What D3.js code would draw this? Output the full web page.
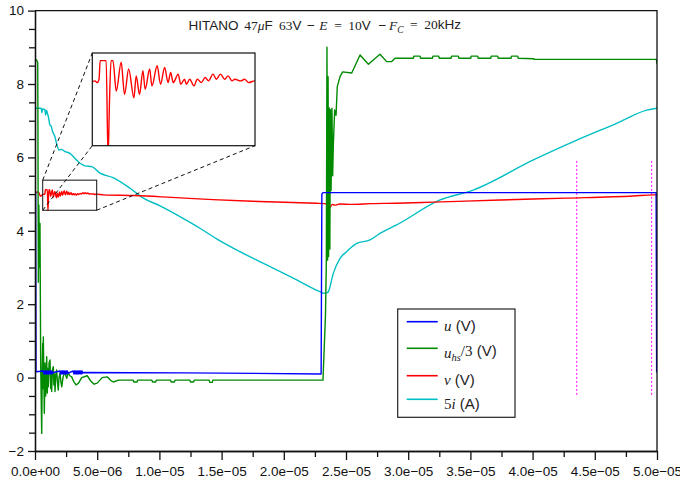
<!DOCTYPE html>
<html lang="en">
<head>
  <meta charset="UTF-8">
  <title>HITANO 47uF</title>
  <style>
    body { margin: 0; background: white; }
    svg { display: block; }
    .sans { font-family: "Liberation Sans", Arial, sans-serif; }
    .math { font-family: "Liberation Serif", "Times New Roman", serif; }
  </style>
  <script src="https://cdn.jsdelivr.net/npm/d3@7"></script>
</head>
<body>
<svg id="chart" width="680" height="483"></svg>
<script>
// time in microseconds, values in volts (5i in amps x5)
var tU = [0, 0.05, 0.08, 0.67, 0.72, 0.77, 0.82, 0.87, 0.92, 0.97, 1.02, 1.07, 1.12, 1.17, 1.22, 1.27, 1.32, 1.37, 1.42,
  1.5, 2.0, 2.05, 2.1, 2.15, 2.2, 2.25, 2.3, 2.35, 2.4, 2.45, 2.5, 2.55, 2.6, 2.68,
  2.8, 3.08, 3.13, 3.18, 3.23, 3.28, 3.33, 3.38, 3.43, 3.48, 3.53, 3.58, 3.63, 3.68, 3.73, 3.78, 3.83,
  3.9, 12, 23.0, 23.06, 23.15, 49.93, 49.97, 50];
var u = [5.05, 5.05, 0.16, 0.18, 0.10, 0.18, 0.10, 0.18, 0.10, 0.18, 0.10, 0.18, 0.10, 0.18, 0.10, 0.18, 0.10, 0.18, 0.12,
  0.14, 0.18, 0.10, 0.18, 0.10, 0.18, 0.10, 0.18, 0.10, 0.18, 0.10, 0.18, 0.10, 0.18, 0.12,
  0.14, 0.18, 0.10, 0.18, 0.10, 0.18, 0.10, 0.18, 0.10, 0.18, 0.10, 0.18, 0.10, 0.18, 0.10, 0.18, 0.12,
  0.14, 0.13, 0.10, 5.0, 5.04, 5.04, 0.16, 0.16];

var tUhs = [0, 0.12, 0.22, 0.27, 0.31, 0.36, 0.4, 0.46, 0.54, 0.58, 0.62, 0.64, 0.67, 0.75, 0.8, 0.86,
  0.94, 0.99, 1.03, 1.07, 1.13, 1.21, 1.26, 1.3, 1.34, 1.4, 1.47, 1.52, 1.57, 1.61, 1.67, 1.74, 1.8, 1.87, 1.93,
  2.01, 2.08, 2.15, 2.25, 2.33, 2.41, 2.48, 2.55, 2.62, 2.68, 2.8, 2.95, 3.1, 3.3, 3.5, 3.75, 4.2, 4.5, 4.75,
  5.0, 5.4, 5.8, 6.1, 6.3, 6.6, 6.8,
  7.9, 7.95, 8.2, 8.25, 9.4, 9.45, 9.7, 9.75, 10.9, 10.95, 11.2, 11.25, 12.45, 12.5, 12.75, 12.8, 14.0, 14.05, 14.25, 14.3,
  23.15, 23.35, 23.42, 23.47, 23.52, 23.56, 23.6, 23.65, 23.7, 23.75, 23.8, 23.87, 23.93, 23.98, 24.09, 24.2, 24.3,
  24.52, 24.73, 25.46, 26.13, 26.8, 27.73, 28.27, 28.67, 28.94,
  30.41, 30.46, 30.95, 31.0, 31.94, 31.99, 32.45, 32.5, 33.44, 33.49, 34.03, 34.08, 35.02, 35.07, 35.58, 35.63,
  36.63, 36.68, 37.19, 37.24, 38.26, 38.31, 38.8, 38.85, 40.1, 40.12, 49.95, 50];
var uhs = [8.67, 8.66, 8.58, 2.6, 4.7, 3.0, 4.2, 0.3, -1.52, 0.2, 0.94, -0.3, 1.11, -0.97, 0.4, -0.5,
  0.57, -0.42, 0.25, -0.25, 0.4, 0.48, -0.3, 0.1, -0.38, 0.2, 0.3, -0.2, 0.1, -0.38, 0.05, 0.21, -0.1, -0.34, 0.0,
  0.12, -0.1, -0.25, 0.0, 0.1, 0.16, 0.05, -0.02, 0.08, 0.13, 0.05, 0.02, -0.1, -0.2, -0.15, 0.0, 0.05, -0.1, -0.18,
  -0.15, 0.0, 0.02, -0.08, -0.12, -0.08, -0.07,
  -0.07, -0.12, -0.12, -0.07, -0.07, -0.12, -0.12, -0.07, -0.07, -0.12, -0.12, -0.07, -0.07, -0.12, -0.12, -0.07, -0.07, -0.13, -0.13, -0.07,
  -0.07, 1.7, 3.2, 9.0, 3.2, 8.2, 3.3, 7.35, 3.5, 7.3, 5.1, 7.34, 5.5, 6.34, 7.29, 7.15, 7.93,
  8.2, 8.33, 8.3, 8.79, 8.54, 8.81, 8.61, 8.61, 8.70,
  8.70, 8.76, 8.76, 8.70, 8.70, 8.76, 8.76, 8.70, 8.70, 8.76, 8.76, 8.70, 8.70, 8.76, 8.76, 8.70,
  8.70, 8.76, 8.76, 8.70, 8.70, 8.76, 8.76, 8.70, 8.69, 8.67, 8.67, 8.55];

var tV = [0, 0.15, 0.3, 0.45, 0.52, 0.61, 0.69, 0.75, 0.8, 0.83, 0.99, 1.04, 1.08, 1.12, 1.17, 1.26, 1.39, 1.48,
  1.59, 1.73, 1.79, 1.88, 1.97, 2.03, 2.15, 2.21, 2.35, 2.44, 2.55, 2.64, 2.71, 2.78, 2.91, 2.98, 3.08, 3.13,
  3.22, 3.33, 3.42, 3.53, 3.63, 3.72, 3.84, 3.93, 4.04, 4.15, 4.24, 4.35, 4.42, 4.58, 4.68, 4.79, 4.95,
  5.5, 8.0, 11.0, 14.3, 18.0, 22.6, 23.3, 23.5, 23.7, 23.9, 24.1, 24.5, 25.5, 27, 29, 32, 37.4, 42.7, 48.1, 49.7, 50];
var v = [5.0, 5.06, 5.04, 4.94, 4.96, 4.99, 5.0, 4.99, 5.01, 5.12, 5.12, 4.55, 4.89, 5.12, 5.12, 4.94, 5.11, 4.92,
  5.07, 4.90, 5.03, 4.92, 5.06, 4.95, 5.07, 4.97, 5.09, 4.98, 5.08, 4.99, 5.05, 4.99, 5.04, 4.98, 5.01, 4.98,
  5.01, 4.97, 5.01, 4.99, 5.02, 5.0, 5.04, 5.01, 5.04, 5.01, 5.03, 5.0, 5.01, 5.0, 5.01, 4.99, 5.0,
  4.98, 4.96, 4.91, 4.85, 4.8, 4.75, 4.74, 4.7, 4.64, 4.72, 4.7, 4.73, 4.72, 4.74, 4.75, 4.78, 4.84, 4.89, 4.95, 4.98, 4.98];

var tI = [0, 0.5, 0.55, 0.62, 0.8, 0.85, 0.92, 1.0, 1.08, 1.2, 1.3, 1.4, 1.61, 1.75, 1.95, 2.1, 2.41, 2.81, 3.2,
  3.62, 4.02, 4.56, 5.23, 6.27, 7.64, 8.71, 10.05, 11.9, 13.26, 14.6, 16.48, 18.62, 20.76, 22.91, 23.2, 23.45,
  23.58, 23.98, 24.52, 25.05, 25.86, 26.93, 27.73, 29.07, 32.56, 35.23, 40.06, 43.55, 46.76, 49.18, 50];
var i5 = [7.34, 7.34, 7.22, 7.32, 7.3, 7.15, 7.28, 7.2, 7.1, 6.88, 6.85, 6.72, 6.56, 6.35, 6.2, 6.22, 6.16, 6.11, 5.98,
  5.84, 5.77, 5.75, 5.57, 5.45, 5.16, 4.89, 4.68, 4.34, 4.07, 3.78, 3.43, 3.07, 2.71, 2.34, 2.30, 2.31,
  2.34, 2.84, 3.25, 3.43, 3.66, 3.75, 3.93, 4.16, 4.84, 5.11, 5.93, 6.47, 6.93, 7.29, 7.34];

var markerT = [43.55, 49.57];
var markerV = [-0.47, 5.93];

// zoomed region (us, V) and the range shown in the inset
var zoomT = [0.62, 4.96];
var zoomV = [4.56, 5.38];
var insetV = [4.617, 5.165];

var xTicks = [0, 5, 10, 15, 20, 25, 30, 35, 40, 45, 50];
var xTickLabels = ["0.0e+00", "5.0e\u221206", "1.0e\u221205", "1.5e\u221205", "2.0e\u221205", "2.5e\u221205",
  "3.0e\u221205", "3.5e\u221205", "4.0e\u221205", "4.5e\u221205", "5.0e\u221205"];
var xMinor = [2.5, 7.5, 12.5, 17.5, 22.5, 27.5, 32.5, 37.5, 42.5, 47.5];
var yTicks = [-2, 0, 2, 4, 6, 8, 10];
var yTickLabels = ["\u22122", "0", "2", "4", "6", "8", "10"];
var yMinor = [-1.5, -1, -0.5, 0.5, 1, 1.5, 2.5, 3, 3.5, 4.5, 5, 5.5, 6.5, 7, 7.5, 8.5, 9, 9.5];

var colU = "#0000ff", colUhs = "#008a00", colV = "#ff0000", colI = "#00bfc4";

var svg = d3.select("#chart");
var x = d3.scaleLinear().domain([0, 5e-5]).range([35, 657]);
var y = d3.scaleLinear().domain([-2, 10]).range([451, 10.6]);

function pts(ts, vs) { return ts.map(function(t, k) { return [t * 1e-6, vs[k]]; }); }

svg.append("clipPath").attr("id", "plotclip")
  .append("rect").attr("x", 35).attr("y", 10.6).attr("width", 622).attr("height", 440.4);

var line = d3.line().x(function(d) { return x(d[0]); }).y(function(d) { return y(d[1]); });
var smooth = d3.line().curve(d3.curveMonotoneX).x(function(d) { return x(d[0]); }).y(function(d) { return y(d[1]); });

var curves = svg.append("g").attr("clip-path", "url(#plotclip)").attr("fill", "none")
  .attr("stroke-width", 1.4).attr("stroke-linejoin", "round");

markerT.forEach(function(t) {
  curves.append("line")
    .attr("x1", x(t * 1e-6)).attr("x2", x(t * 1e-6))
    .attr("y1", y(markerV[0])).attr("y2", y(markerV[1]))
    .attr("stroke", "#ff00ff").attr("stroke-width", 1).attr("stroke-dasharray", "2,2");
});

curves.append("path").attr("d", smooth(pts(tI, i5))).attr("stroke", colI);
curves.append("path").attr("d", smooth(pts(tV, v))).attr("stroke", colV);
curves.append("path").attr("d", line(pts(tUhs, uhs))).attr("stroke", colUhs);
curves.append("path").attr("d", line(pts(tU, u))).attr("stroke", colU);

// axes
var axisCol = "#111";
svg.append("g").attr("transform", "translate(35,0)")
  .call(d3.axisLeft(y).tickValues(yTicks).tickFormat(function(d, k) { return yTickLabels[k]; })
    .tickSize(7).tickSizeOuter(0).tickPadding(4));
svg.append("g").attr("transform", "translate(35,0)")
  .call(d3.axisLeft(y).tickValues(yMinor).tickFormat("").tickSize(6).tickSizeOuter(0));
svg.append("g").attr("transform", "translate(0,451)")
  .call(d3.axisBottom(x).tickValues(xTicks.map(function(d) { return d * 1e-6; }))
    .tickFormat(function(d, k) { return xTickLabels[k]; }).tickSize(9).tickSizeOuter(0).tickPadding(6));
svg.append("g").attr("transform", "translate(0,451)")
  .call(d3.axisBottom(x).tickValues(xMinor.map(function(d) { return d * 1e-6; })).tickFormat("").tickSize(6).tickSizeOuter(0));
svg.selectAll(".domain, .tick line").attr("stroke", axisCol).attr("stroke-width", 1.3);
svg.selectAll(".tick text").attr("font-size", 13.5).attr("fill", "#111")
  .attr("font-family", "'Liberation Sans', Arial, sans-serif");

// frame top and right
svg.append("path")
  .attr("d", "M" + x(0) + "," + y(10) + "H" + x(5e-5) + "V" + y(-2))
  .attr("fill", "none").attr("stroke", axisCol).attr("stroke-width", 1.3);

// zoom box, connectors and inset
var bx0 = x(zoomT[0] * 1e-6), bx1 = x(zoomT[1] * 1e-6), by0 = y(zoomV[1]), by1 = y(zoomV[0]);
var ix0 = 92.3, ix1 = 255, iy0 = 53, iy1 = 145.7;
svg.append("rect").attr("x", bx0).attr("y", by0).attr("width", bx1 - bx0).attr("height", by1 - by0)
  .attr("fill", "none").attr("stroke", "#111").attr("stroke-width", 1);
var conn = [[bx0, by0, ix0, iy0], [bx0, by1, ix0, iy1], [bx1, by1, ix1, iy1]];
svg.selectAll(".conn").data(conn).enter().append("line").attr("class", "conn")
  .attr("x1", function(d) { return d[0]; }).attr("y1", function(d) { return d[1]; })
  .attr("x2", function(d) { return d[2]; }).attr("y2", function(d) { return d[3]; })
  .attr("stroke", "#111").attr("stroke-width", 1).attr("stroke-dasharray", "4,3");

var xi = d3.scaleLinear().domain([zoomT[0] * 1e-6, zoomT[1] * 1e-6]).range([ix0, ix1]);
var yi = d3.scaleLinear().domain(insetV).range([iy1, iy0]);
svg.append("clipPath").attr("id", "insetclip")
  .append("rect").attr("x", ix0).attr("y", iy0).attr("width", ix1 - ix0).attr("height", iy1 - iy0);
svg.append("rect").attr("x", ix0).attr("y", iy0).attr("width", ix1 - ix0).attr("height", iy1 - iy0)
  .attr("fill", "white");
svg.append("path").attr("clip-path", "url(#insetclip)")
  .attr("d", d3.line().curve(d3.curveMonotoneX)
    .x(function(d) { return xi(d[0]); }).y(function(d) { return yi(d[1]); })(pts(tV, v)))
  .attr("fill", "none").attr("stroke", colV).attr("stroke-width", 1.4).attr("stroke-linejoin", "round");
svg.append("rect").attr("x", ix0).attr("y", iy0).attr("width", ix1 - ix0).attr("height", iy1 - iy0)
  .attr("fill", "none").attr("stroke", "#111").attr("stroke-width", 1.2);

// rich text pieces: [text, style, x]  (x optional = absolute start)
function addParts(textSel, parts) {
  var prev = null;
  parts.forEach(function(p) {
    var ts = textSel.append("tspan").text(p[0]);
    ts.attr("class", p[1] === "sans" ? "sans" : "math");
    if (p[1] === "mathi" || p[1] === "sub") ts.attr("font-style", "italic");
    if (p[2] !== undefined) ts.attr("x", p[2]);
    if (p[1] === "sub") ts.attr("font-size", "0.7em").attr("dy", "0.3em");
    else if (prev === "sub") ts.attr("dy", "-0.3em");
    prev = p[1];
  });
}

// title
var titleParts = [
  ["HITANO", "sans", 188.5], ["47", "math", 244.3], ["\u03bc", "mathi"], ["F", "sans"], ["63", "math", 279], ["V", "sans"],
  ["\u2212", "sans", 307], ["E", "mathi", 319.3], ["=", "math", 334.3], ["10", "math", 348.3], ["V", "sans"],
  ["\u2212", "sans", 378.5], ["F", "mathi", 389], ["C", "sub"], ["=", "math", 410], ["20", "math", 424.3], ["kHz", "sans"]
];
var title = svg.append("text").attr("y", 30).attr("font-size", 13.5).attr("fill", "#222");
addParts(title, titleParts);

// legend
var legendItems = [
  { col: colU, parts: [["u", "mathi"], [" (V)", "sans"]] },
  { col: colUhs, parts: [["u", "mathi"], ["hs", "sub"], ["/3", "math"], [" (V)", "sans"]] },
  { col: colV, parts: [["v", "mathi"], [" (V)", "sans"]] },
  { col: colI, parts: [["5", "math"], ["i", "mathi"], [" (A)", "sans"]] }
];
var legendRows = [321.7, 348.3, 375.7, 399.3];
var lg = svg.append("g");
lg.append("rect").attr("x", 397.7).attr("y", 309).attr("width", 117.3).attr("height", 108.3)
  .attr("fill", "white").attr("stroke", "#222").attr("stroke-width", 1.2);
legendItems.forEach(function(it, k) {
  lg.append("line").attr("x1", 406.7).attr("x2", 437.7).attr("y1", legendRows[k]).attr("y2", legendRows[k])
    .attr("stroke", it.col).attr("stroke-width", 1.6);
  var t = lg.append("text").attr("x", 444).attr("y", legendRows[k] + 9.5).attr("font-size", 15).attr("fill", "#222");
  addParts(t, it.parts);
});
</script>
</body>
</html>
